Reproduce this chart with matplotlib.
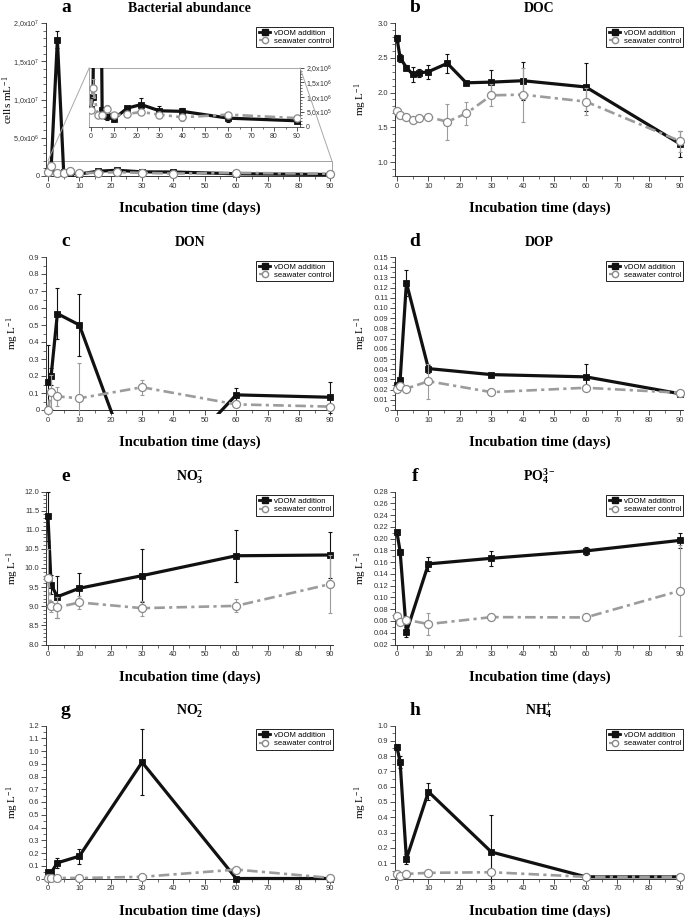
import matplotlib
matplotlib.use('Agg')
import matplotlib.pyplot as plt
import numpy as np
from matplotlib.ticker import MultipleLocator, FixedLocator, FixedFormatter, FuncFormatter
from matplotlib.patches import Rectangle, ConnectionPatch
from matplotlib.lines import Line2D

plt.rcParams['mathtext.fontset'] = 'custom'
plt.rcParams['mathtext.rm'] = 'Liberation Serif'
plt.rcParams['mathtext.it'] = 'Liberation Serif:italic'
plt.rcParams['mathtext.bf'] = 'Liberation Serif:bold'
plt.rcParams['mathtext.sf'] = 'Liberation Sans'
plt.rcParams['font.family'] = ['Liberation Sans', 'DejaVu Sans']

# ---------------- data ----------------
days_long = [0, 1, 3, 5, 7, 10, 16, 22, 30, 40, 60, 90]
days = [0, 1, 3, 10, 30, 60, 90]

bact_vdom = [6.0e5, 1.0e6, 1.78e7, 5.8e5, 3.7e5, 2.6e5, 6.3e5, 7.5e5, 5.4e5, 5.2e5, 2.9e5, 2.0e5]
bact_vdom_err = [5e4, 1e5, 1.1e6, 1e5, 1.5e5, 5e4, 6e4, 2.2e5, 1.5e5, 1.2e5, 1.3e5, 5e4]
bact_ctrl = [5.8e5, 1.31e6, 4.1e5, 4.1e5, 6.0e5, 3.8e5, 4.3e5, 5.0e5, 4.1e5, 3.2e5, 4.1e5, 2.9e5]
bact_ctrl_err = [5e4, 3e5, 5e4, 5e4, 1.5e5, 5e4, 5e4, 5e4, 1e5, 1.2e5, 6e4, 1e5]

doc_vdom = [2.78, 2.50, 2.36, 2.26, 2.28, 2.30, 2.42, 2.14, 2.15, 2.17, 2.08, 1.26]
doc_vdom_err = [0.05, 0.06, 0.03, 0.11, 0.06, 0.10, 0.14, 0.02, 0.17, 0.27, 0.35, 0.18]
doc_ctrl = [1.74, 1.68, 1.65, 1.60, 1.63, 1.65, 1.58, 1.70, 1.96, 1.97, 1.87, 1.30]
doc_ctrl_err = [0.02, 0.02, 0.02, 0.02, 0.02, 0.02, 0.26, 0.16, 0.16, 0.39, 0.20, 0.15]

don_vdom = [0.163, 0.20, 0.567, 0.50, -0.50, 0.089, 0.075]
don_vdom_err = [0.22, 0.05, 0.148, 0.185, 0.10, 0.04, 0.09]
don_ctrl = [0.0, 0.104, 0.08, 0.069, 0.134, 0.033, 0.02]
don_ctrl_err = [0.03, 0.10, 0.054, 0.207, 0.043, 0.005, 0.005]

dop_vdom = [0.025, 0.029, 0.1247, 0.0406, 0.0347, 0.0325, 0.0159]
dop_vdom_err = [0.002, 0.002, 0.013, 0.004, 0.001, 0.013, 0.001]
dop_ctrl = [0.0208, 0.0234, 0.021, 0.0282, 0.0175, 0.0218, 0.0169]
dop_ctrl_err = [0.001, 0.001, 0.001, 0.017, 0.001, 0.001, 0.001]

no3_vdom = [11.35, 9.56, 9.25, 9.47, 9.80, 10.32, 10.34]
no3_vdom_err = [0.65, 0.25, 0.55, 0.40, 0.70, 0.68, 0.60]
no3_ctrl = [9.75, 9.00, 8.97, 9.10, 8.95, 9.01, 9.58]
no3_ctrl_err = [0.75, 0.15, 0.28, 0.18, 0.20, 0.17, 0.76]

po4_vdom = [0.2104, 0.178, 0.041, 0.157, 0.1665, 0.179, 0.197]
po4_vdom_err = [0.004, 0.005, 0.008, 0.012, 0.013, 0.007, 0.013]
po4_ctrl = [0.0677, 0.0576, 0.062, 0.0547, 0.0665, 0.066, 0.1115]
po4_ctrl_err = [0.002, 0.002, 0.002, 0.018, 0.002, 0.002, 0.077]

no2_vdom = [0.05, 0.045, 0.123, 0.175, 0.912, 0.0, 0.0]
no2_vdom_err = [0.01, 0.01, 0.04, 0.058, 0.26, 0.003, 0.003]
no2_ctrl = [0.005, 0.005, 0.005, 0.004, 0.013, 0.07, 0.005]
no2_ctrl_err = [0.002, 0.002, 0.002, 0.002, 0.003, 0.005, 0.002]

nh4_vdom = [0.859, 0.76, 0.128, 0.567, 0.173, 0.011, 0.011]
nh4_vdom_err = [0.02, 0.04, 0.03, 0.055, 0.243, 0.003, 0.003]
nh4_ctrl = [0.032, 0.015, 0.03, 0.037, 0.041, 0.011, 0.011]
nh4_ctrl_err = [0.003, 0.003, 0.003, 0.003, 0.003, 0.003, 0.003]

series_labels = ['vDOM addition', 'seawater control']
panel_letters = ['a', 'b', 'c', 'd', 'e', 'f', 'g', 'h']
panel_titles = ['Bacterial abundance', 'DOC', 'DON', 'DOP',
                r'NO$_{\mathbf{3}}^{\mathbf{-}}$', r'PO$_{\mathbf{4}}^{\mathbf{3-}}$',
                r'NO$_{\mathbf{2}}^{\mathbf{-}}$', r'NH$_{\mathbf{4}}^{\mathbf{+}}$']
xlabel_text = 'Incubation time (days)'
ylabel_conc = 'mg L$^{-1}$'
ylabel_cells = 'cells mL$^{-1}$'
bact_ticks = [0, 5e6, 1e7, 1.5e7, 2e7]
bact_ticklabels = ['0', r'5,0x10$^{\mathsf{6}}$', r'1,0x10$^{\mathsf{7}}$',
                   r'1,5x10$^{\mathsf{7}}$', r'2,0x10$^{\mathsf{7}}$']
inset_ticks = [0, 5e5, 1e6, 1.5e6, 2e6]
inset_ticklabels = ['0', r'5,0x10$^{\mathsf{5}}$', r'1,0x10$^{\mathsf{6}}$',
                    r'1,5x10$^{\mathsf{6}}$', r'2,0x10$^{\mathsf{6}}$']

# ---------------- style ----------------
BLACK = '#111111'
GREY = '#9c9c9c'
GREY_E = '#8a8a8a'
DASH = (0, (4.0, 1.6, 1.2, 1.6))
SERIF = 'Liberation Serif'
TICK_FS = 5.5

fig = plt.figure(figsize=(6.85, 9.17), dpi=100)

W, H = 685.0, 917.0
col_left = [46.4, 395.4]
col_w = [287.0, 288.0]
row_top = [23.0, 257.0, 491.5, 725.5]
row_h = 153.0


def make_ax(r, c):
    l = col_left[c] / W
    b = 1 - (row_top[r] + row_h) / H
    return fig.add_axes([l, b, col_w[c] / W, row_h / H])


def draw_series(ax, x, y, e, kind, ms_scale=1.0, extend_clip=True):
    if kind == 'v':
        eb = ax.errorbar(x, y, yerr=e, fmt='none', ecolor=BLACK, elinewidth=0.8,
                         capsize=1.6, capthick=0.8, zorder=2.5)
        ln, = ax.plot(x, y, color=BLACK, ls='-', lw=2.3, marker='s', ms=4.8 * ms_scale,
                      mfc=BLACK, mec=BLACK, mew=0.6, zorder=3)
    else:
        eb = ax.errorbar(x, y, yerr=e, fmt='none', ecolor=GREY, elinewidth=0.8,
                         capsize=1.6, capthick=0.8, zorder=3.5)
        ln, = ax.plot(x, y, color=GREY, ls=DASH, lw=1.9, marker='o', ms=5.8 * ms_scale,
                      mfc='white', mec=GREY_E, mew=0.9, zorder=4)
    if extend_clip:
        rect = Rectangle((-0.03, -0.025), 1.06, 1.05, transform=ax.transAxes,
                         fill=False, visible=False)
        for a in [ln] + list(eb.lines[1]) + list(eb.lines[2]):
            a.set_clip_path(rect)


def style_ax(ax, ylim, letter, title, ylabel, ylab_x):
    ax.set_xlim(-0.5, 91)
    ax.set_ylim(*ylim)
    for s in ['top', 'right']:
        ax.spines[s].set_visible(False)
    for s in ['left', 'bottom']:
        ax.spines[s].set_linewidth(0.7)
        ax.spines[s].set_color('#333333')
    ax.xaxis.set_major_locator(MultipleLocator(10))
    ax.xaxis.set_minor_locator(MultipleLocator(5))
    ax.tick_params(which='major', direction='out', length=3.5, width=0.6, pad=1.5,
                   labelsize=TICK_FS, colors='#333333')
    ax.tick_params(which='minor', direction='out', length=2.0, width=0.5, colors='#333333')
    ax.text(0.068, 1.07, letter, transform=ax.transAxes, ha='center', va='baseline',
            family=SERIF, fontweight='bold', fontsize=14)
    ax.text(0.5, 1.07, title, transform=ax.transAxes, ha='center', va='baseline',
            family=SERIF, fontweight='bold', fontsize=10)
    ax.set_xlabel(xlabel_text, family=SERIF, fontweight='bold', fontsize=10.5)
    ax.xaxis.set_label_coords(0.5, -0.17)
    ax.set_ylabel(ylabel, family=SERIF, fontsize=8)
    ax.yaxis.set_label_coords(ylab_x, 0.5)
    handles = [Line2D([], [], color=BLACK, lw=2.0, marker='s', ms=4, mfc=BLACK, mec=BLACK),
               Line2D([], [], color=GREY, lw=1.6, ls=DASH, marker='o', ms=4.5,
                      mfc='white', mec=GREY_E)]
    leg = ax.legend(handles, series_labels, loc='upper right', bbox_to_anchor=(1.0, 0.975),
                    borderaxespad=0, fontsize=5.6, handlelength=1.5, handletextpad=0.4,
                    labelspacing=0.1, borderpad=0.3, fancybox=False, framealpha=1)
    leg.get_frame().set_edgecolor('#222222')
    leg.get_frame().set_linewidth(0.7)
    leg.set_zorder(10)


# ---------------- panel a ----------------
ax_a = make_ax(0, 0)
draw_series(ax_a, days_long, bact_vdom, bact_vdom_err, 'v')
draw_series(ax_a, days_long, bact_ctrl, bact_ctrl_err, 'c')
style_ax(ax_a, (0, 2e7), panel_letters[0], panel_titles[0], ylabel_cells, -0.11)
ax_a.yaxis.set_major_locator(FixedLocator(bact_ticks))
ax_a.yaxis.set_major_formatter(FixedFormatter(bact_ticklabels))
ax_a.yaxis.set_minor_locator(MultipleLocator(1e6))
ax_a.tick_params(axis='y', labelsize=5.2)
ax_a.add_patch(Rectangle((0, 0), 90.5, 2e6, fill=False, ec='#a0a0a0', lw=0.7, zorder=1))

ax_in = fig.add_axes([89.3 / W, 1 - 126.7 / H, (300 - 89.3) / W, (126.7 - 67.7) / H])
draw_series(ax_in, days_long, bact_vdom, bact_vdom_err, 'v', ms_scale=0.9, extend_clip=False)
draw_series(ax_in, days_long, bact_ctrl, bact_ctrl_err, 'c', ms_scale=0.9, extend_clip=False)
ax_in.set_xlim(-0.6, 91.3)
ax_in.set_ylim(0, 2e6)
ax_in.set_facecolor('white')
for s in ['top', 'left']:
    ax_in.spines[s].set_color('#a8a8a8')
    ax_in.spines[s].set_linewidth(0.7)
for s in ['right', 'bottom']:
    ax_in.spines[s].set_color('#444444')
    ax_in.spines[s].set_linewidth(0.6)
ax_in.yaxis.tick_right()
ax_in.yaxis.set_major_locator(FixedLocator(inset_ticks))
ax_in.yaxis.set_major_formatter(FixedFormatter(inset_ticklabels))
ax_in.yaxis.set_minor_locator(MultipleLocator(1e5))
ax_in.xaxis.set_major_locator(MultipleLocator(10))
ax_in.xaxis.set_minor_locator(MultipleLocator(5))
ax_in.tick_params(which='major', direction='out', length=3, width=0.6, pad=1.2,
                  labelsize=5.0, colors='#333333')
ax_in.tick_params(which='minor', direction='out', length=1.6, width=0.5, colors='#333333')

for xa, xb in [((0, 1), (0, 2e6)), ((1, 1), (90.5, 2e6))]:
    con = ConnectionPatch(xyA=xa, coordsA=ax_in.transAxes, xyB=xb, coordsB=ax_a.transData,
                          color='#a8a8a8', lw=0.7)
    fig.add_artist(con)

# ---------------- other panels ----------------
specs = [
    (0, 1, days_long, doc_vdom, doc_vdom_err, doc_ctrl, doc_ctrl_err, (0.8, 3.0), 0.5, 0.1, 1, False),
    (1, 0, days, don_vdom, don_vdom_err, don_ctrl, don_ctrl_err, (0, 0.9), 0.1, 0.05, 1, True),
    (1, 1, days, dop_vdom, dop_vdom_err, dop_ctrl, dop_ctrl_err, (0, 0.15), 0.01, 0.005, 2, True),
    (2, 0, days, no3_vdom, no3_vdom_err, no3_ctrl, no3_ctrl_err, (8.0, 12.0), 0.5, 0.1, 1, False),
    (2, 1, days, po4_vdom, po4_vdom_err, po4_ctrl, po4_ctrl_err, (0.02, 0.28), 0.02, 0.01, 2, False),
    (3, 0, days, no2_vdom, no2_vdom_err, no2_ctrl, no2_ctrl_err, (0, 1.2), 0.1, 0.05, 1, True),
    (3, 1, days, nh4_vdom, nh4_vdom_err, nh4_ctrl, nh4_ctrl_err, (0, 1.0), 0.1, 0.05, 1, True),
]


def make_fmt(dec, zero_plain):
    def f(v, p):
        if zero_plain and abs(v) < 1e-9:
            return '0'
        return '%.*f' % (dec, v)
    return FuncFormatter(f)


for i, (r, c, x, yv, ev, yc, ec, ylim, maj, mnr, dec, zp) in enumerate(specs):
    ax = make_ax(r, c)
    draw_series(ax, x, yv, ev, 'v')
    draw_series(ax, x, yc, ec, 'c')
    style_ax(ax, ylim, panel_letters[i + 1], panel_titles[i + 1], ylabel_conc,
             -0.09 if c == 1 else -0.088)
    ax.yaxis.set_major_locator(MultipleLocator(maj))
    ax.yaxis.set_minor_locator(MultipleLocator(mnr))
    ax.yaxis.set_major_formatter(make_fmt(dec, zp))

fig.savefig('out.png', dpi=100)
